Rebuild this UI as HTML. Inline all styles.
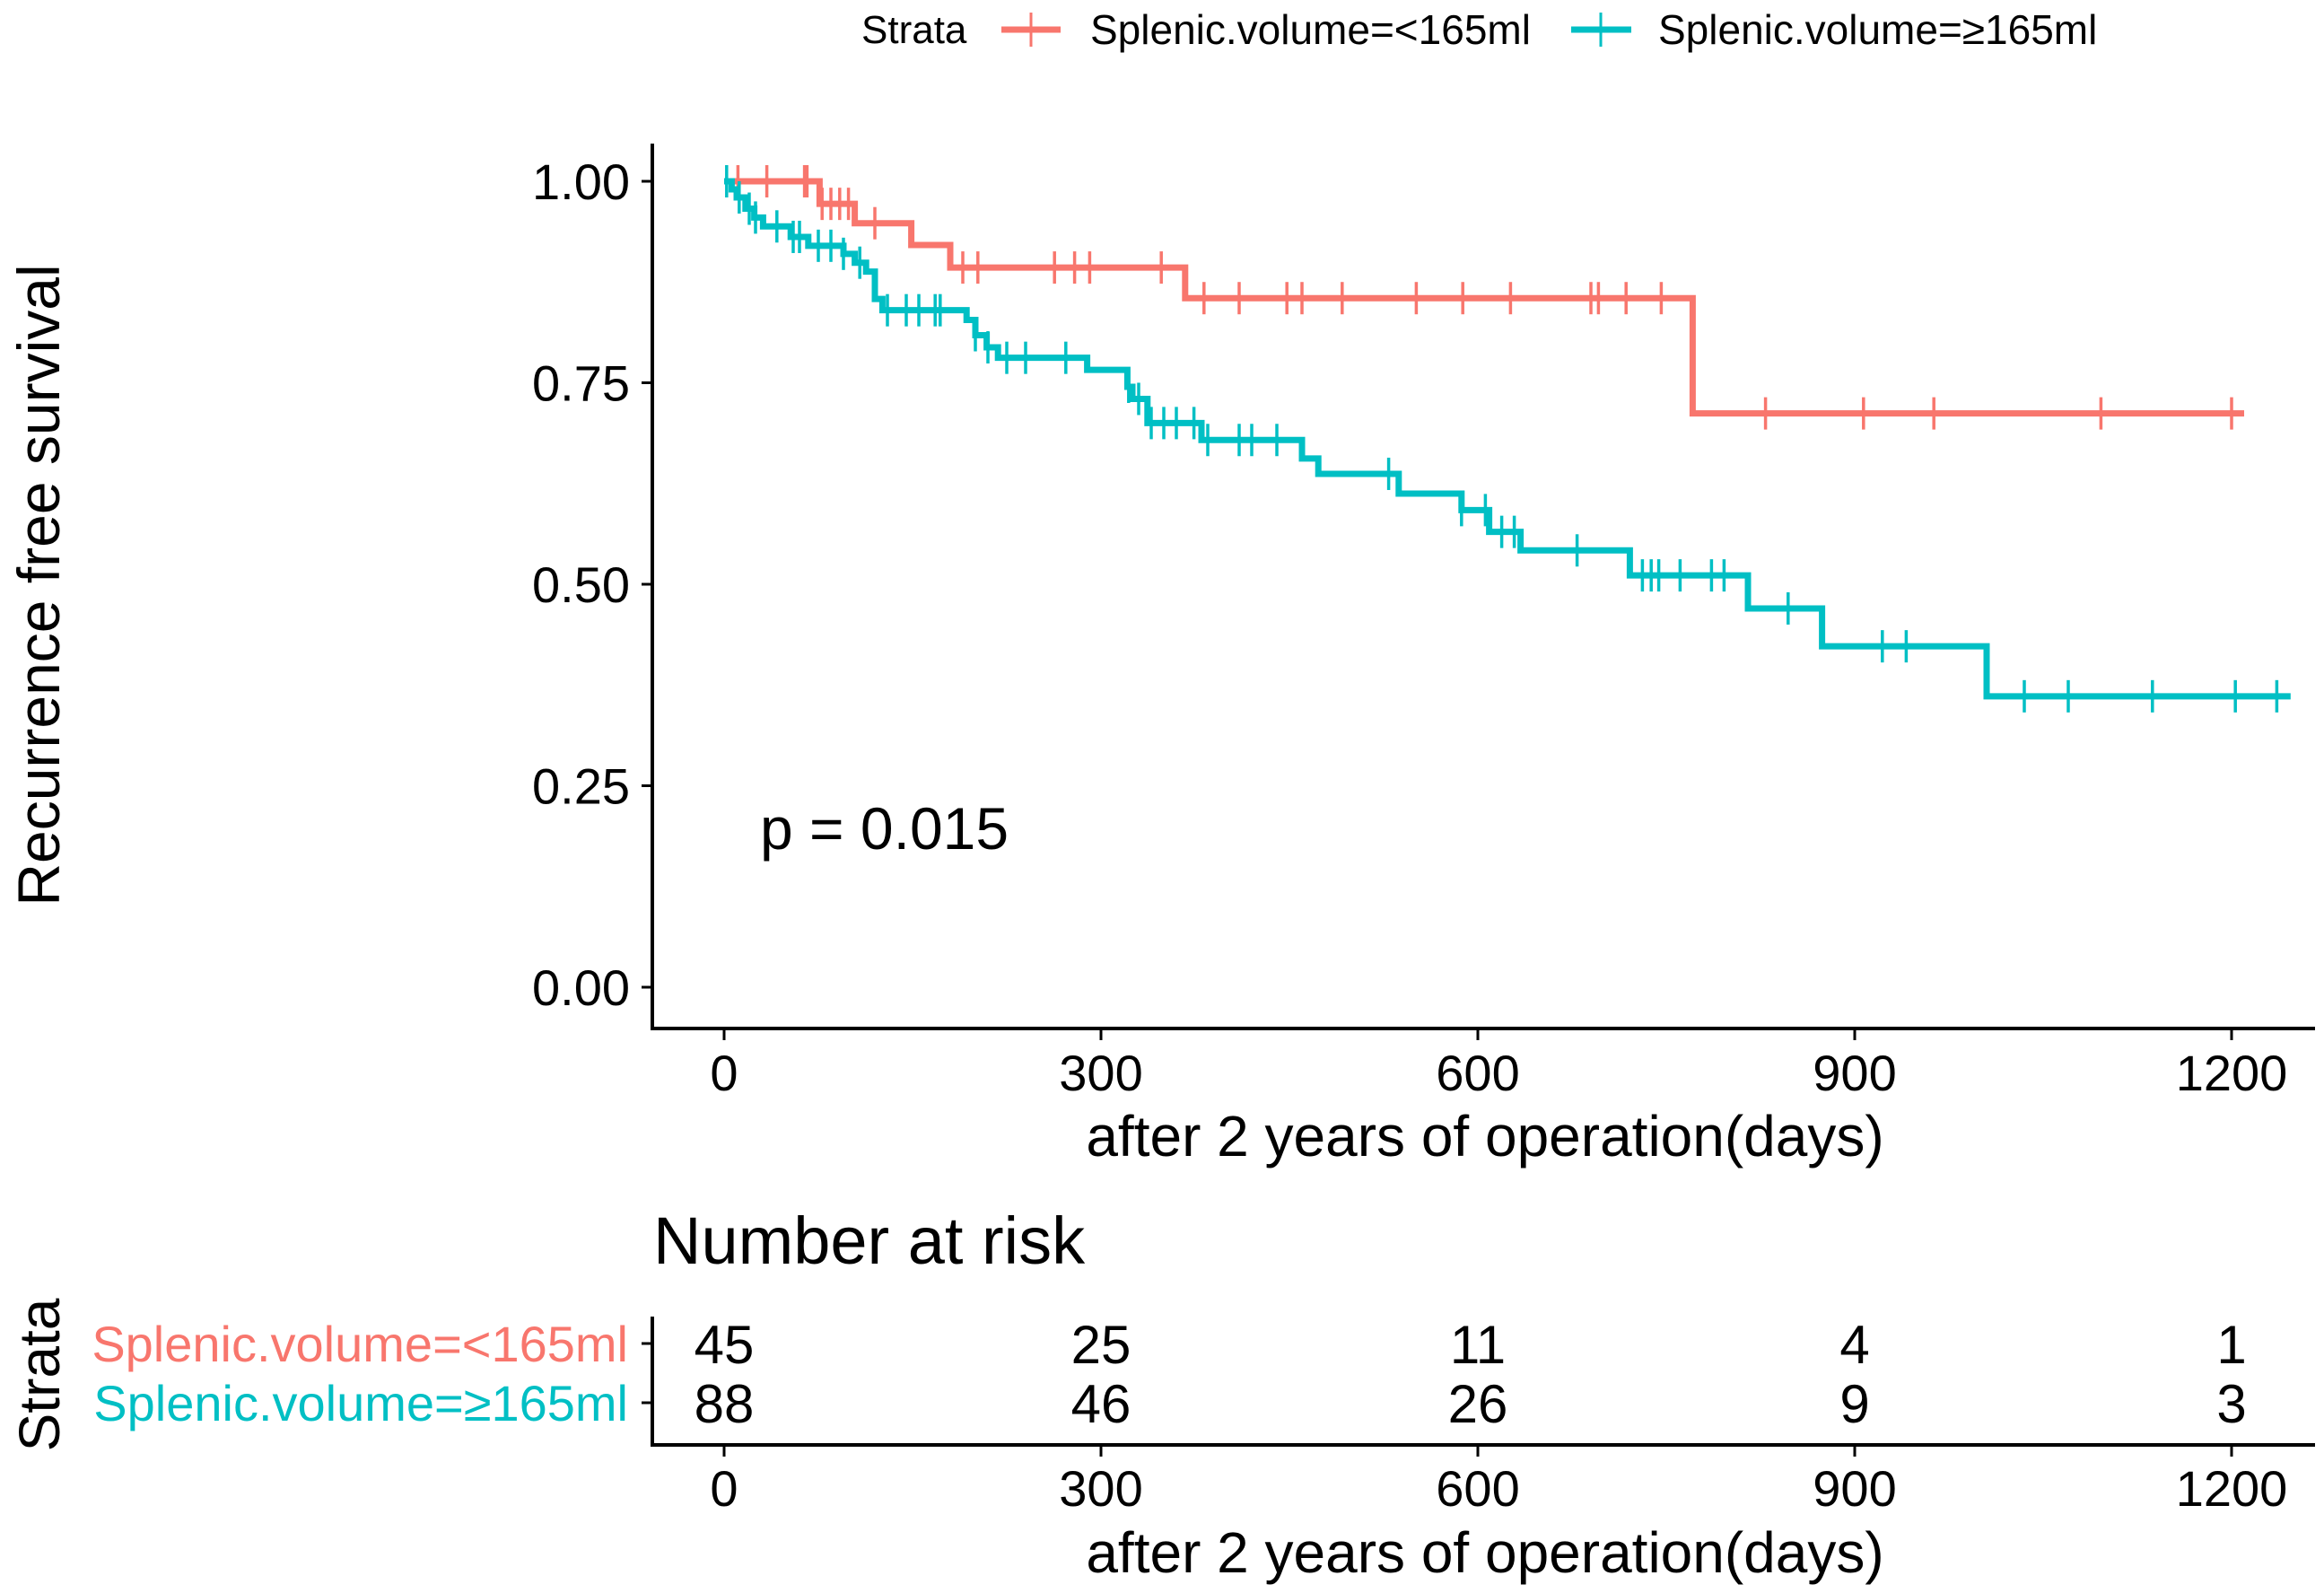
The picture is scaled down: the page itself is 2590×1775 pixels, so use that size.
<!DOCTYPE html>
<html><head><meta charset="utf-8"><style>
html,body{margin:0;padding:0;background:#fff;}
svg{display:block;font-family:"Liberation Sans",sans-serif;}
</style></head><body>
<svg id="chart" width="2590" height="1775" viewBox="0 0 2590 1775" xmlns="http://www.w3.org/2000/svg">
<g>
  <text x="960" y="48" font-size="44">Strata</text>
  <g>
    <line x1="1116" y1="33" x2="1182" y2="33" stroke="#F8766D" stroke-width="7"/>
    <line x1="1149" y1="14" x2="1149" y2="52" stroke="#F8766D" stroke-width="3"/>
    <text x="1215" y="49" font-size="46">Splenic.volume=&lt;165ml</text>
  </g>
  <g>
    <line x1="1751" y1="33" x2="1818" y2="33" stroke="#00BFC4" stroke-width="7"/>
    <line x1="1784" y1="14" x2="1784" y2="52" stroke="#00BFC4" stroke-width="3"/>
    <text x="1848" y="49" font-size="46">Splenic.volume=≥165ml</text>
  </g>
</g>
<text transform="translate(66,652) rotate(-90)" text-anchor="middle" font-size="66">Recurrence free survival</text>
<g id="yaxis"></g>
<g id="xaxis"></g>
<text x="1655" y="1288" text-anchor="middle" font-size="64">after 2 years of operation(days)</text>
<g id="curves"></g>
<text x="847" y="946" font-size="66">p = 0.015</text>
<text x="728" y="1408" font-size="74">Number at risk</text>
<text transform="translate(66,1532) rotate(-90)" text-anchor="middle" font-size="64">Strata</text>
<g id="risk"></g>
<text x="1655" y="1752" text-anchor="middle" font-size="64">after 2 years of operation(days)</text>
</svg>
<script>
const xTicks=[0,300,600,900,1200];
const yTicks=[0,0.25,0.5,0.75,1];
const yTickLabels=["0.00","0.25","0.50","0.75","1.00"];
const lowTimes=[0,76,104,149,180,367,771,1210];
const lowSurv=[1,0.972,0.948,0.921,0.893,0.855,0.712,0.712];
const lowCens=[11,34,64,66,78,85,92,99,120,190,202,263,279,291,348,382,410,448,460,492,551,588,626,690,696,718,746,829,907,963,1096,1200];
const highTimes=[0,6,10,17,24,31,53,67,95,104,113,120,126,193,200,209,218,289,321,325,337,380,460,473,537,587,609,634,721,815,874,1005,1247];
const highSurv=[1,0.990,0.980,0.966,0.955,0.944,0.931,0.920,0.910,0.899,0.888,0.854,0.840,0.828,0.809,0.794,0.781,0.766,0.745,0.730,0.700,0.679,0.656,0.637,0.6125,0.592,0.565,0.542,0.511,0.470,0.423,0.361,0.361];
const highCens=[2,12,20,25,42,55,60,75,85,95,108,130,145,155,168,172,200,210,225,240,272,322,330,340,350,360,374,385,410,420,440,529,587,606,619,629,679,731,738,744,761,786,796,847,922,941,1035,1070,1137,1203,1236];
const riskLow=[45,25,11,4,1];
const riskHigh=[88,46,26,9,3];
const strataNames=["Splenic.volume=<165ml","Splenic.volume=≥165ml"];

const NS="http://www.w3.org/2000/svg";
const X=d=>807+d*1.4;
const Y=s=>1100-s*898;
function mk(tag,attrs,parent){const e=document.createElementNS(NS,tag);for(const k in attrs)e.setAttribute(k,attrs[k]);parent.appendChild(e);return e;}

const ya=document.getElementById('yaxis');
mk('line',{x1:727,y1:160,x2:727,y2:1146,stroke:'#000','stroke-width':4},ya);
yTicks.forEach((v,i)=>{
  const t=mk('line',{x1:715,y1:Y(v),x2:727,y2:Y(v),stroke:'#000','stroke-width':3},ya);
  
  
  const l=mk('text',{x:702,y:Y(v)+20,'text-anchor':'end','font-size':56},ya);
  l.textContent=yTickLabels[i];
  
  
});
function xAxis(g,yLine,labY){
  mk('line',{x1:725,y1:yLine,x2:2580,y2:yLine,stroke:'#000','stroke-width':4},g);
  xTicks.forEach(v=>{
    const t=mk('line',{x1:X(v),y1:yLine,x2:X(v),y2:yLine+13,stroke:'#000','stroke-width':3},g);
    
    
    const l=mk('text',{x:X(v),y:labY,'text-anchor':'middle','font-size':56},g);
    l.textContent=v;
    
    
  });
}
xAxis(document.getElementById('xaxis'),1146,1215);

const cg=document.getElementById('curves');
function stepAt(times,surv,t){let s=surv[0];for(let i=0;i<times.length;i++){if(times[i]<=t)s=surv[i];}return s;}
function curve(times,surv,cens,color,name){
  let d='M'+X(times[0])+','+Y(surv[0]);
  for(let i=1;i<times.length;i++){d+=' H'+X(times[i])+' V'+Y(surv[i]);}
  const p=mk('path',{d:d,fill:'none',stroke:color,'stroke-width':7},cg);
  
  
  cens.forEach(t=>{
    const s=stepAt(times,surv,t);
    const c=mk('line',{x1:X(t),y1:Y(s)-18,x2:X(t),y2:Y(s)+18,stroke:color,'stroke-width':3.5},cg);
    
    
  });
}
curve(lowTimes,lowSurv,lowCens,'#F8766D','low-volume');
curve(highTimes,highSurv,highCens,'#00BFC4','high-volume');

const rg=document.getElementById('risk');
mk('line',{x1:727,y1:1467,x2:727,y2:1612,stroke:'#000','stroke-width':4},rg);
xAxis(rg,1610,1678);
const rows=[[riskLow,'#F8766D',1497],[riskHigh,'#00BFC4',1563]];
rows.forEach((r,ri)=>{
  const t=mk('line',{x1:715,y1:r[2],x2:727,y2:r[2],stroke:'#000','stroke-width':3},rg);
  
  
  const lab=mk('text',{x:700,y:r[2]+20,'text-anchor':'end','font-size':56,fill:r[1]},rg);
  lab.textContent=strataNames[ri];
  
  
  r[0].forEach((n,i)=>{
    const e=mk('text',{x:X(xTicks[i]),y:r[2]+22,'text-anchor':'middle','font-size':60},rg);
    e.textContent=n;
    
    
  });
});
</script>
</body></html>
